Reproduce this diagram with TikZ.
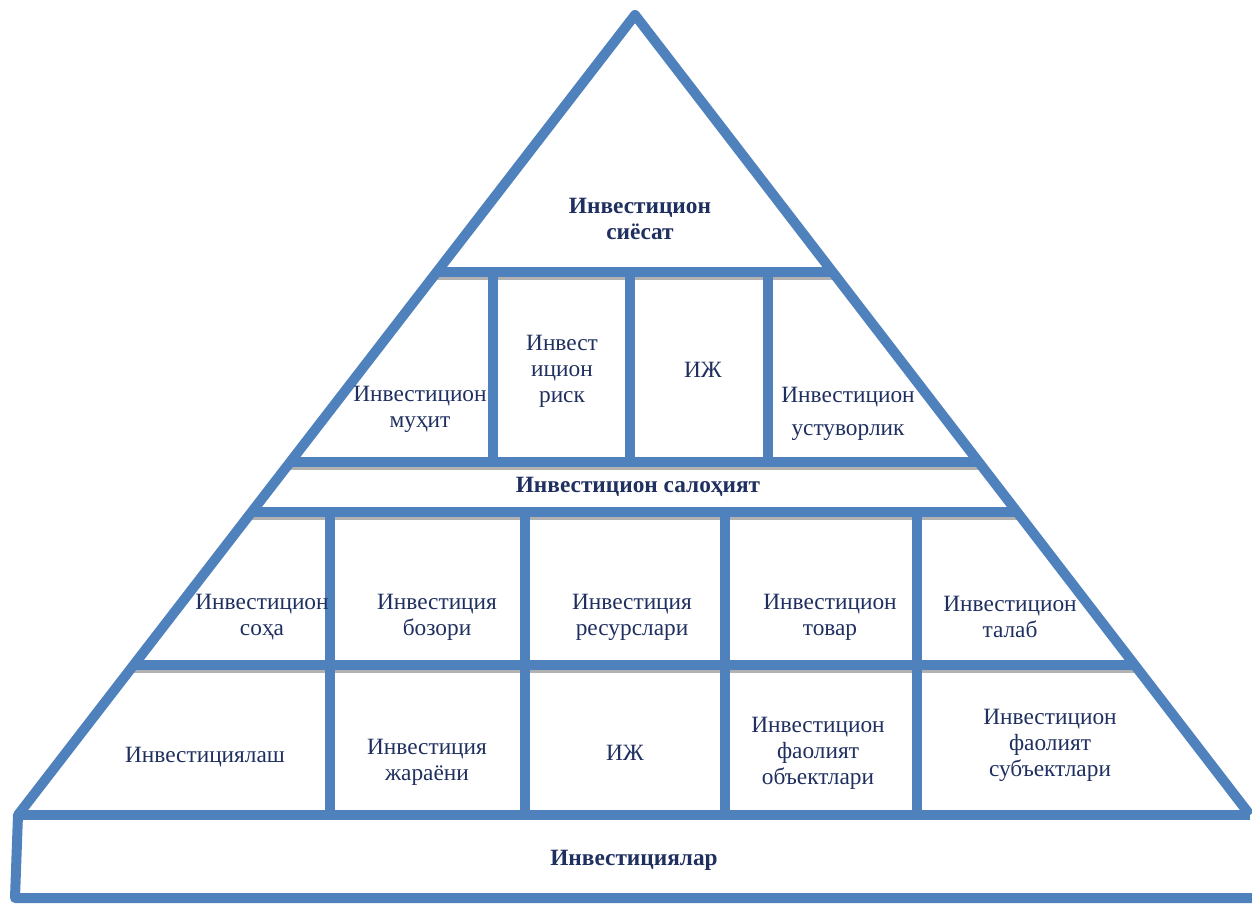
\documentclass[tikz,border=0pt]{standalone}
\usepackage{fontspec}
\setmainfont{Liberation Serif}
\newfontfamily\diagfont{Liberation Serif}
\usetikzlibrary{calc}
\definecolor{barblue}{HTML}{4F81BD}
\definecolor{txtblue}{HTML}{1F2F5F}
\tikzset{bar/.style={draw=barblue,line width=7.5pt},
  bar shadow/.style={draw=black!30,line width=7.5pt},
  lbl/.style={text=txtblue,align=center,inner sep=0pt,font=\diagfont\fontsize{17.5}{19.5}\selectfont},
  blbl/.style={lbl,font=\diagfont\fontsize{17.5}{19.5}\selectfont\bfseries}}

\begin{document}
\begin{tikzpicture}[x=0.75pt,y=-0.75pt]
\useasboundingbox (0,0) rectangle (1252,904);
\coordinate (A) at (635,15);
\coordinate (L) at (18,815);
\coordinate (R) at (1250,815);
% levels of the cross bars on both sides
\foreach \n/\t in {a/0.32125,b/0.55875,c/0.62125,d/0.8125}{
  \coordinate (l\n) at ($(A)!\t!(L)$);
  \coordinate (r\n) at ($(A)!\t!(R)$);
}
\foreach \n in {a,b,c,d}
  \draw[bar shadow] ([yshift=-2.5pt]l\n) -- ([yshift=-2.5pt]r\n);
% upright walls
\foreach \x in {493,630,768}
  \draw[bar] (\x,0 |- la) -- (\x,0 |- lb);
\foreach \x in {330,525,725,917}
  \draw[bar] (\x,0 |- lc) -- (\x,0 |- L);
\foreach \n in {a,b,c,d}
  \draw[bar] (l\n) -- (r\n);
% base block
\coordinate (BL) at (15,898);
\coordinate (BR) at (1252,898);
\draw[bar] (L) -- (R);
\draw[bar,line join=round] (R) -- (A) -- (L) -- (BL) -- (BR);

\node[blbl] (siyosat) at (640,219) {Инвестицион\\сиёсат};
\node[lbl] (muhit) at (420,409) {Инвестицион\\муҳит};
\node[lbl] (risk) at (562,371) {Инвест\\ицион\\риск};
\node[lbl] (ij1) at (703,370) {ИЖ};
\node[lbl] (ustuvor) at (848,414) {Инвестицион\\[5pt]устуворлик};
\node[blbl] (salohiyat) at (638,487) {Инвестицион салоҳият};
\node[lbl] (soha) at (262,617) {Инвестицион\\соҳа};
\node[lbl] (bozor) at (437,617) {Инвестиция\\бозори};
\node[lbl] (resurs) at (632,617) {Инвестиция\\ресурслари};
\node[lbl] (tovar) at (830,617) {Инвестицион\\товар};
\node[lbl] (talab) at (1010,617) {Инвестицион\\талаб};
\node[lbl] (lash) at (205,757) {Инвестициялаш};
\node[lbl] (jarayon) at (427,762) {Инвестиция\\жараёни};
\node[lbl] (ij2) at (625,753) {ИЖ};
\node[lbl] (obyekt) at (818,753) {Инвестицион\\фаолият\\объектлари};
\node[lbl] (subyekt) at (1050,745) {Инвестицион\\фаолият\\субъектлари};
\node[blbl] (lar) at (634,860) {Инвестициялар};
\end{tikzpicture}
\end{document}
